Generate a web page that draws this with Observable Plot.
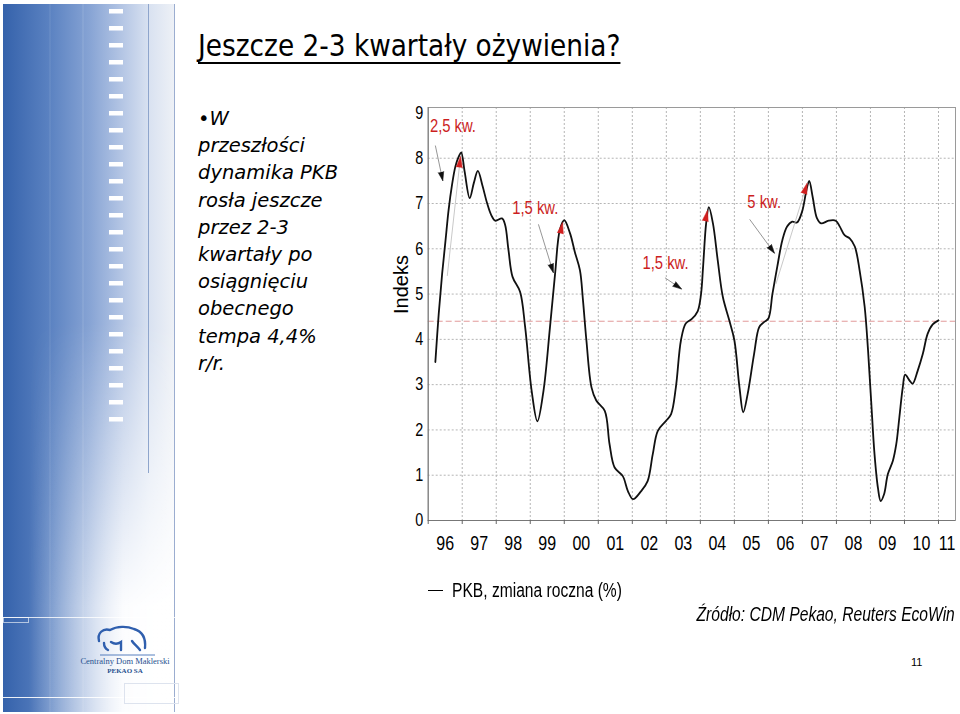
<!DOCTYPE html>
<html><head><meta charset="utf-8">
<script src="https://cdn.jsdelivr.net/npm/d3@7"></script>
<script src="https://cdn.jsdelivr.net/npm/@observablehq/plot@0.6"></script>
<style>
body{margin:0;background:#fff;}
#page{position:relative;width:960px;height:714px;overflow:hidden;background:#fff;}
.narrow{font-family:"Liberation Sans",Arial,sans-serif;}
#title{position:absolute;left:198px;top:29px;line-height:34px;font-family:"DejaVu Sans Condensed","DejaVu Sans",sans-serif;font-size:29.3px;text-decoration:underline;text-decoration-thickness:2px;text-underline-offset:6px;color:#000;white-space:nowrap;}
#bullet{position:absolute;left:198px;top:105px;font-family:"DejaVu Sans",sans-serif;font-style:italic;font-size:19.5px;line-height:27.2px;color:#000;white-space:nowrap;}
#chart{position:absolute;left:380px;top:95px;}
#legend{position:absolute;left:428px;top:579px;height:22px;font-size:19.5px;line-height:22px;white-space:nowrap;}
#legend .sw{position:absolute;left:0;top:11px;width:15px;height:0;border-top:1.3px solid #000;}
#legend .tx{position:absolute;left:24px;top:0;transform:scaleX(0.8);transform-origin:0 50%;}
#source{position:absolute;right:5px;top:603px;font-size:19.5px;line-height:22px;font-style:italic;white-space:nowrap;transform:scaleX(0.8);transform-origin:100% 50%;}
#pnum{position:absolute;left:911px;top:656px;font-family:"Liberation Sans",Arial,sans-serif;font-size:11px;}
</style></head>
<body>
<div id="page">
<svg id="side" width="180" height="714" style="position:absolute;left:0;top:0">
  <defs>
    <linearGradient id="gh" x1="0" x2="1" y1="0" y2="0">
      <stop offset="0" stop-color="#3562ab"/>
      <stop offset="0.28" stop-color="#5c83c2"/>
      <stop offset="0.5" stop-color="#86a3d4"/>
      <stop offset="0.7" stop-color="#b6c7e5"/>
      <stop offset="0.85" stop-color="#d9e2f1"/>
      <stop offset="1" stop-color="#eef1f6"/>
    </linearGradient>
    <linearGradient id="gw" x1="0" x2="1" y1="0" y2="0">
      <stop offset="0.15" stop-color="#fff" stop-opacity="0"/>
      <stop offset="0.7" stop-color="#fff" stop-opacity="0.95"/>
      <stop offset="1" stop-color="#fff" stop-opacity="1"/>
    </linearGradient>
    <linearGradient id="gv" x1="0" x2="0" y1="0" y2="1">
      <stop offset="0.45" stop-color="#000"/>
      <stop offset="0.85" stop-color="#fff"/>
    </linearGradient>
    <mask id="mk"><rect x="0" y="0" width="180" height="714" fill="url(#gv)"/></mask>
  </defs>
  <rect x="3" y="4" width="172" height="708" fill="url(#gh)"/>
  <rect x="3" y="4" width="172" height="708" fill="url(#gw)" mask="url(#mk)"/>
  <line x1="50" y1="4" x2="50" y2="712" stroke="#fff" stroke-opacity="0.12"/>
  <line x1="83" y1="4" x2="83" y2="712" stroke="#fff" stroke-opacity="0.15"/>
  <line x1="148.5" y1="4" x2="148.5" y2="473" stroke="#8ea5cc" stroke-width="1"/>
  <line x1="174.5" y1="4" x2="174.5" y2="712" stroke="#9badd0" stroke-width="1"/>
  <g id="dashes" fill="#fff"></g>
  <line x1="3" y1="617.5" x2="175" y2="617.5" stroke="#fff" stroke-opacity="0.8"/>
  <rect x="3.5" y="617.5" width="25" height="5" fill="none" stroke="#fff" stroke-opacity="0.6"/>
  <line x1="3" y1="697.5" x2="175" y2="697.5" stroke="#fff" stroke-opacity="0.9"/>
  <rect x="124.5" y="683.5" width="54" height="20" fill="none" stroke="#dde3ee"/>
  <path d="M99,641 C97,633 103,628 110,630 C117,626 127,626 134,629 C141,631 146,637 145,648 M104,643 C104,647 106,649 108,650 M111,642 C114,644 118,644 121,642 L121,650 M132,641 C134,644 137,646 140,650" fill="none" stroke="#2f5fae" stroke-width="2.4" stroke-linecap="round"/>
  <line x1="100" y1="655" x2="155" y2="655" stroke="#2f5fae" stroke-width="0.8"/>
  <text x="125" y="664" text-anchor="middle" font-family="Liberation Serif,serif" font-size="8.5" fill="#27508f">Centralny Dom Maklerski</text>
  <text x="125" y="673" text-anchor="middle" font-family="Liberation Serif,serif" font-size="7" font-weight="bold" fill="#27508f">PEKAO SA</text>
</svg>
<div id="title">Jeszcze 2-3 kwartały ożywienia?</div>
<div id="bullet">•W<br>przeszłości<br>dynamika PKB<br>rosła jeszcze<br>przez 2-3<br>kwartały po<br>osiągnięciu<br>obecnego<br>tempa 4,4%<br>r/r.</div>
<div id="chart"></div>
<div id="legend" class="narrow"><span class="sw"></span><span class="tx">PKB, zmiana roczna (%)</span></div>
<div id="source" class="narrow">Źródło: CDM Pekao, Reuters EcoWin</div>
<div id="pnum">11</div>
</div>
<script>
// sidebar dashes
const dg = document.getElementById("dashes");
for (let i = 0; i < 25; i++) {
  const r = document.createElementNS("http://www.w3.org/2000/svg", "rect");
  r.setAttribute("x", 109); r.setAttribute("y", 9 + 17 * i);
  r.setAttribute("width", 14); r.setAttribute("height", 4.5);
  dg.appendChild(r);
}

// ---- data ----
const years = [1996.21,1996.31,1996.41,1996.51,1996.60,1996.70,1996.80,1996.90,1996.97,1997.07,1997.22,1997.34,1997.46,1997.60,1997.73,1997.85,1997.97,1998.17,1998.26,1998.36,1998.48,1998.70,1998.85,1999.04,1999.21,1999.39,1999.58,1999.73,1999.87,2000.00,2000.17,2000.31,2000.46,2000.55,2000.65,2000.80,2000.94,2001.19,2001.33,2001.48,2001.72,2001.87,2002.02,2002.26,2002.45,2002.60,2002.75,2002.99,2003.14,2003.28,2003.43,2003.57,2003.75,2003.92,2004.02,2004.08,2004.17,2004.25,2004.37,2004.51,2004.66,2004.85,2005.00,2005.15,2005.26,2005.39,2005.58,2005.73,2005.87,2006.00,2006.12,2006.26,2006.41,2006.55,2006.70,2006.84,2006.99,2007.12,2007.20,2007.30,2007.43,2007.55,2007.77,2007.98,2008.10,2008.24,2008.39,2008.54,2008.68,2008.83,2008.93,2009.02,2009.12,2009.22,2009.30,2009.40,2009.51,2009.66,2009.76,2009.85,2009.95,2010.02,2010.15,2010.24,2010.39,2010.54,2010.68,2010.83,2011.00];
const gdp = [3.50,4.57,5.45,6.19,6.86,7.41,7.82,8.04,8.13,7.71,7.12,7.45,7.72,7.38,7.01,6.75,6.62,6.67,6.53,5.97,5.38,5.05,4.27,2.87,2.19,2.87,4.27,5.45,6.42,6.63,6.34,5.93,5.53,4.86,3.98,2.94,2.65,2.42,1.69,1.17,0.98,0.65,0.47,0.65,0.87,1.46,1.98,2.20,2.35,2.94,3.98,4.35,4.45,4.62,5.00,5.60,6.56,6.92,6.56,5.75,4.94,4.42,3.98,2.94,2.39,2.79,3.68,4.27,4.38,4.46,5.01,5.60,6.19,6.49,6.60,6.58,6.82,7.30,7.50,7.15,6.67,6.56,6.62,6.62,6.49,6.30,6.23,6.05,5.53,4.72,3.75,2.65,1.46,0.72,0.43,0.58,1.02,1.32,1.69,2.28,2.94,3.22,3.09,3.02,3.31,3.68,4.12,4.33,4.42];
const yearTicks = [1996,1997,1998,1999,2000,2001,2002,2003,2004,2005,2006,2007,2008,2009,2010,2011];
const yearLabels = ["96","97","98","99","00","01","02","03","04","05","06","07","08","09","10","11"];
const yTicks = [0,1,2,3,4,5,6,7,8,9];
const refLevel = 4.4;
const annotText = ["2,5 kw.","1,5 kw.","1,5 kw.","5 kw."];
const annotX = [1996.05,1998.47,2002.30,2005.38];
const annotY = [8.71,6.90,5.68,7.03];
// black pointer arrows (tail -> tip)
const blackX1 = [1996.21,1999.24,2002.96,2005.45];
const blackY1 = [8.28,6.54,5.36,6.65];
const blackX2 = [1996.43,1999.68,2003.45,2006.18];
const blackY2 = [7.50,5.47,5.11,5.90];
// red arrows at peaks (base -> tip)
const redX1 = [1996.56,1999.88,2004.13,2006.22];
const redY1 = [5.40,6.33,6.56,5.22];
const redX2 = [1996.95,1999.95,2004.21,2007.14];
const redY2 = [8.04,6.58,6.85,7.45];
const redShaft = [true,false,false,true];

const data = years.map((t, i) => ({t, v: gdp[i]}));
const annots = annotText.map((s, i) => ({s, x: annotX[i], y: annotY[i]}));
const blacks = blackX1.map((d, i) => ({x1: d, y1: blackY1[i], x2: blackX2[i], y2: blackY2[i]}));
const reds = redX1.map((d, i) => ({x1: d, y1: redY1[i], x2: redX2[i], y2: redY2[i], shaft: redShaft[i]}));

const W = 580, H = 470, mL = 47.7, mR = 5, mT = 12, mB = 45;
const xDom = [1996, 2011.5], yDom = [0, 9.12];
const kx = (W - mL - mR) / (xDom[1] - xDom[0]);
const ky = (H - mT - mB) / (yDom[1] - yDom[0]);
const angle = d => Math.atan2((d.x2 - d.x1) * kx, (d.y2 - d.y1) * ky) * 180 / Math.PI;
// label sits in the middle of each (possibly partial) year interval
const labelPos = yearTicks.map(y => (y + Math.min(y + 1, xDom[1])) / 2);

const FONT = '"Liberation Sans",Arial,sans-serif';

const chart = Plot.plot({
  width: W, height: H,
  marginLeft: mL, marginRight: mR, marginTop: mT, marginBottom: mB,
  style: {fontFamily: FONT, fontSize: "18px", color: "#000", background: "transparent", overflow: "visible"},
  x: {domain: xDom},
  y: {domain: yDom},
  marks: [
    Plot.gridX(yearTicks.slice(1), {stroke: "#b5b5b5", strokeOpacity: 1, strokeDasharray: "2,2"}),
    Plot.gridY(yTicks.slice(1, 9), {stroke: "#b5b5b5", strokeOpacity: 1, strokeDasharray: "2,2"}),
    Plot.ruleY([refLevel], {stroke: "#e29a9a", strokeDasharray: "6,3"}),
    Plot.frame({stroke: "#9a9a9a"}),
    Plot.ruleX([xDom[0]], {stroke: "#777"}),
    Plot.ruleY([0], {stroke: "#777"}),
    Plot.axisY(yTicks, {tickSize: 0, tickPadding: 5, fontSize: 18, label: null}),
    Plot.axisX(yearTicks, {tickSize: 4, tickFormat: () => "", label: null, stroke: "#666"}),
    Plot.axisX(labelPos, {tickSize: 0, tickPadding: 15, fontSize: 20, label: null,
      tickFormat: d => yearLabels[labelPos.indexOf(d)]}),
    Plot.text(["Indeks"], {frameAnchor: "left", dx: -27, rotate: -90, fontSize: 20, fill: "#000"}),
    Plot.line(data, {x: "t", y: "v", curve: "catmull-rom", stroke: "#111", strokeWidth: 1.8}),
    Plot.link(reds.filter(d => d.shaft), {x1: "x1", y1: "y1", x2: "x2", y2: "y2", stroke: "#c9c9c9", strokeWidth: 1}),
    Plot.vector(reds, {x: "x2", y: "y2", rotate: angle, length: 11, r: 3, shape: "spike", anchor: "end",
      fill: "#d11f1f", fillOpacity: 1, stroke: "#d11f1f", strokeWidth: 0.5}),
    Plot.link(blacks, {x1: "x1", y1: "y1", x2: "x2", y2: "y2", stroke: "#8a8a8a", strokeWidth: 0.9}),
    Plot.vector(blacks, {x: "x2", y: "y2", rotate: angle, length: 9, r: 2.8, shape: "spike", anchor: "end",
      fill: "#111", fillOpacity: 1, stroke: "#111", strokeWidth: 0.5}),
    Plot.text(annots, {x: "x", y: "y", text: "s", textAnchor: "start", fill: "#cc1f1f", fontSize: 18.5})
  ]
});
// narrow the horizontal texts (the original uses a condensed face), scaling about each text's own anchor
chart.querySelectorAll("text").forEach(t => {
  if (t.textContent === "Indeks") return;
  const X = parseFloat(t.getAttribute("x")) || 0;
  const tr = t.getAttribute("transform") || "";
  t.setAttribute("transform", `${tr} translate(${X},0) scale(0.8,1) translate(${-X},0)`);
});
document.getElementById("chart").appendChild(chart);
</script>
</body></html>
